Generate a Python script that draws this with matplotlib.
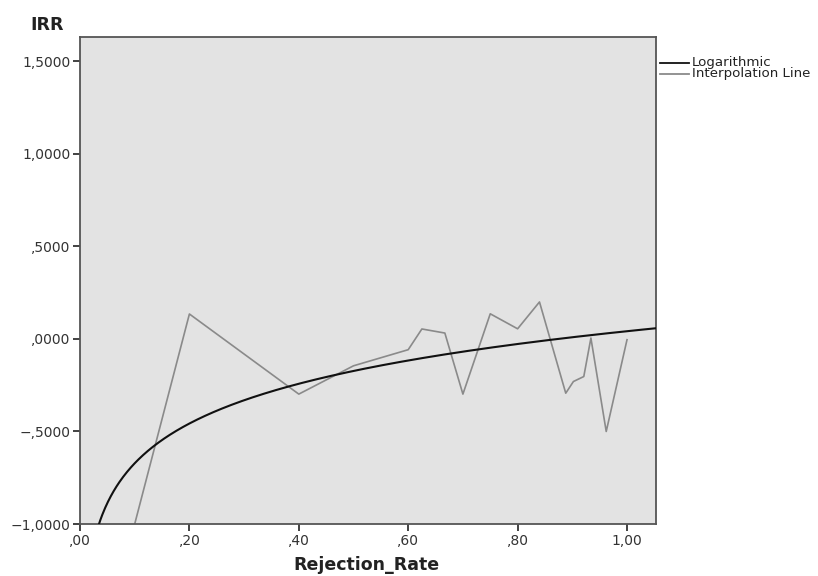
import numpy as np
import matplotlib
matplotlib.use("Agg")
import matplotlib.pyplot as plt
from matplotlib.ticker import FuncFormatter
from matplotlib.lines import Line2D

# Interpolation line data (Rejection_Rate, IRR)
rejection_rate = [0.10, 0.20, 0.40, 0.50, 0.60, 0.625, 0.667, 0.70, 0.75, 0.80,
                  0.84, 0.888, 0.902, 0.921, 0.934, 0.962, 1.00]
irr = [-1.00, 0.135, -0.298, -0.145, -0.058, 0.054, 0.032, -0.298, 0.136, 0.055,
       0.200, -0.293, -0.230, -0.203, 0.005, -0.500, -0.004]

# Logarithmic fit coefficients: IRR = a + b*ln(x)
log_a = 0.042
log_b = 0.31

x_ticks = [0.0, 0.2, 0.4, 0.6, 0.8, 1.0]
y_ticks = [-1.0, -0.5, 0.0, 0.5, 1.0, 1.5]
legend_labels = ["Logarithmic", "Interpolation Line"]

def fmt_x(v, pos):
    s = f"{v:.2f}".replace(".", ",")
    if s.startswith("0,"):
        s = s[1:]
    return s

def fmt_y(v, pos):
    s = f"{abs(v):.4f}".replace(".", ",")
    if s.startswith("0,"):
        s = s[1:]
    return ("\u2212" if v < -1e-9 else "") + s

W, H = 818, 576
fig = plt.figure(figsize=(W/100, H/100), dpi=100)
ax = fig.add_axes([80/W, 52/H, 576/W, 487/H])
ax.set_facecolor("#e3e3e3")

log_color = "#111111"
interp_color = "#8a8a8a"

xs = np.linspace(0.02, 1.06, 600)
ax.plot(xs, log_a + log_b * np.log(xs), color=log_color, lw=1.5, zorder=3)
ax.plot(rejection_rate, irr, color=interp_color, lw=1.2, zorder=2)

ax.set_xlim(0.0, 1.053)
ax.set_ylim(-1.0, 1.632)
ax.set_xticks(x_ticks)
ax.set_yticks(y_ticks)
ax.xaxis.set_major_formatter(FuncFormatter(fmt_x))
ax.yaxis.set_major_formatter(FuncFormatter(fmt_y))
ax.tick_params(axis="both", direction="out", length=5, width=1.3,
               color="#333333", labelcolor="#333333", labelsize=10, pad=2)
for sp in ax.spines.values():
    sp.set_color("#555555")
    sp.set_linewidth(1.3)

fig.text(30/W, 1 - 25/H, "IRR", fontsize=12.5, fontweight="bold",
         color="#222222", va="center", ha="left")
fig.text(366/W, 1 - 565/H, "Rejection_Rate", fontsize=12.5,
         fontweight="bold", color="#222222", va="center", ha="center")

# legend (outside, right of plot)
for i, (lab, col) in enumerate(zip(legend_labels, [log_color, interp_color])):
    yy = 1 - (62.5 + 11.5 * i) / H
    fig.add_artist(Line2D([660/W, 689/W], [yy, yy], color=col, lw=1.3,
                          transform=fig.transFigure))
    fig.text(692/W, yy, lab, fontsize=9.6, color="#222222",
             va="center", ha="left")

fig.savefig("out.png", dpi=100)
